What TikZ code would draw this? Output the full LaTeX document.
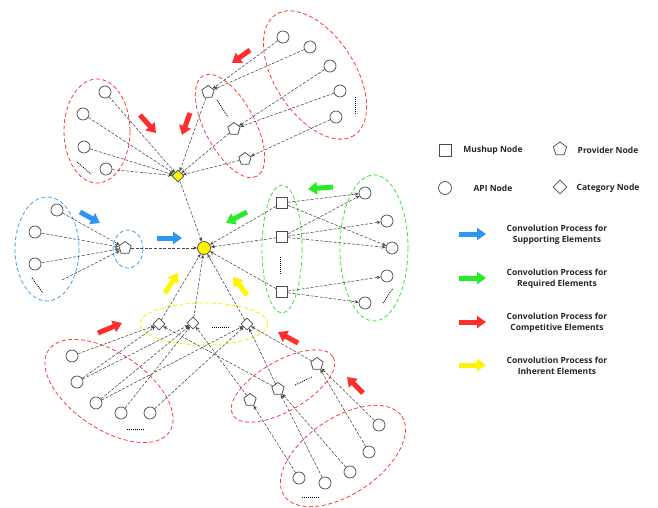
\documentclass[tikz,border=0pt]{standalone}
\usepackage{fontspec}
\setmainfont{Open Sans}
\usetikzlibrary{arrows.meta,shapes.geometric}

\definecolor{ered}{RGB}{250,60,60}
\definecolor{eblue}{RGB}{70,160,235}
\definecolor{egreen}{RGB}{50,230,50}
\definecolor{eyellow}{RGB}{250,238,0}
\definecolor{fred}{RGB}{255,45,45}
\definecolor{fblue}{RGB}{45,150,245}
\definecolor{fgreen}{RGB}{40,235,40}
\definecolor{fyellow}{RGB}{255,245,0}

\begin{document}
\begin{tikzpicture}[x=1pt,y=-1pt,>={Stealth[length=4pt,width=3.4pt]}]
    \tikzstyle{api}=[circle, minimum size=12pt, inner sep=0pt, draw=black!70, line width=0.75pt]
    \tikzstyle{mashup}=[rectangle, minimum size=11pt, inner sep=0pt, draw=black!70, line width=0.75pt]
    \tikzstyle{prov}=[regular polygon, regular polygon sides=5, minimum size=13pt, inner sep=0pt, draw=black!70, line width=0.75pt]
    \tikzstyle{cat}=[diamond, minimum size=12pt, inner sep=0pt, draw=black!70, line width=0.75pt]
    \tikzstyle{link}=[->, gray!55!black, line width=0.55pt, dash pattern=on 3pt off 1.6pt]
    \tikzstyle{group}=[line width=0.8pt, dash pattern=on 4pt off 2.5pt]
    \tikzstyle{more}=[line width=0.9pt, dash pattern=on 0.9pt off 1.1pt]
    \tikzstyle{flow}=[line width=5pt, -{Triangle[length=9pt,width=12pt]}]
    \tikzstyle{legend}=[font=\fontsize{8.5}{10.5}\selectfont\bfseries, align=center, text=black!85]

    \useasboundingbox (0,0) rectangle (658,508);

    % groups
    \draw[group, ered] (97,131) ellipse [x radius=33, y radius=52];
    \draw[group, ered, rotate around={-62:(230,126)}] (230,126) ellipse [x radius=57, y radius=25];
    \draw[group, ered, rotate around={-57:(315,75)}] (315,75) ellipse [x radius=72, y radius=40];
    \draw[group, eblue] (47,249) ellipse [x radius=32, y radius=52];
    \draw[group, eblue] (128,249) ellipse [x radius=15, y radius=19];
    \draw[group, egreen] (282,249) ellipse [x radius=20, y radius=64];
    \draw[group, egreen] (374,248) ellipse [x radius=34, y radius=73];
    \draw[group, eyellow] (204,324) ellipse [x radius=64, y radius=21];
    \draw[group, ered, rotate around={-34:(109,391)}] (109,391) ellipse [x radius=73, y radius=38];
    \draw[group, ered, rotate around={30:(283,386)}] (283,386) ellipse [x radius=58, y radius=25];
    \draw[group, ered, rotate around={34:(343,456)}] (343,456) ellipse [x radius=71, y radius=38];

    % target
    \node[api, fill=yellow, minimum size=13pt] (t) at (204,248) {};

    % competitive elements, top
    \node[cat, fill=yellow] (ca) at (178,176) {};
    \node[api] (tl1) at (105,92) {};
    \node[api] (tl2) at (83,114) {};
    \node[api] (tl3) at (84,147) {};
    \node[api] (tl4) at (106,169) {};
    \node[prov] (pa1) at (208,92) {};
    \node[prov] (pa2) at (234,129) {};
    \node[prov] (pa3) at (245,159) {};
    \node[api] (tr1) at (283,37) {};
    \node[api] (tr2) at (310,47) {};
    \node[api] (tr3) at (330,66) {};
    \node[api] (tr4) at (340,91) {};
    \node[api] (tr5) at (336,117) {};

    % supporting elements
    \node[api] (bl1) at (57,210) {};
    \node[api] (bl2) at (35,232) {};
    \node[api] (bl3) at (35,264) {};
    \coordinate (bl4) at (62,280);
    \node[prov] (pb) at (125,248) {};

    % required elements
    \node[mashup] (m1) at (282,203) {};
    \node[mashup] (m2) at (282,237) {};
    \node[mashup] (m3) at (282,292) {};
    \node[api] (g1) at (365,193) {};
    \node[api] (g2) at (387,221) {};
    \node[api] (g3) at (392,248) {};
    \node[api] (g4) at (387,276) {};
    \node[api] (g5) at (365,303) {};

    % inherent elements
    \node[cat] (d1) at (159,324) {};
    \node[cat] (d2) at (193,323) {};
    \node[cat] (d3) at (247,324) {};
    \node[api] (b1) at (72,356) {};
    \node[api] (b2) at (77,382) {};
    \node[api] (b3) at (96,403) {};
    \node[api] (b4) at (121,413) {};
    \node[api] (b5) at (150,413) {};
    \node[prov] (p1) at (250,400) {};
    \node[prov] (p2) at (278,389) {};
    \node[prov] (p3) at (317,364) {};
    \node[api] (r1) at (379,425) {};
    \node[api] (r2) at (369,452) {};
    \node[api] (r3) at (350,472) {};
    \node[api] (r4) at (325,483) {};
    \node[api] (r5) at (299,478) {};

    % more nodes
    \draw[more] (77,162) -- (91,174);
    \draw[more] (217,100) -- (228,117);
    \draw[more] (355,97) -- (355,115);
    \draw[more] (32,278) -- (43,293);
    \draw[more] (280,257) -- (280,275);
    \draw[more] (383,303) -- (393,288);
    \draw[more] (212,327) -- (230,327);
    \draw[more] (127,429) -- (145,429);
    \draw[more] (295,385) -- (312,377);
    \draw[more] (302,497) -- (320,497);

    % links
    \foreach \s in {tl1,tl2,tl3,tl4,pa1,pa2,pa3}
        \draw[link] (\s) -- (ca);
    \draw[link] (tr1) -- (pa1);
    \draw[link] (tr2) -- (pa1);
    \draw[link] (tr3) -- (pa2);
    \draw[link] (tr4) -- (pa2);
    \draw[link] (tr5) -- (pa3);
    \foreach \s in {bl1,bl2,bl3,bl4}
        \draw[link] (\s) -- (pb);
    \draw[link] (m1) -- (g1);
    \draw[link] (m1) -- (g3);
    \draw[link] (m2) -- (g1);
    \draw[link] (m2) -- (g2);
    \draw[link] (m2) -- (g3);
    \draw[link] (m3) -- (g4);
    \draw[link] (m3) -- (g5);
    \draw[link] (b1) -- (d1);
    \draw[link] (b2) -- (d1);
    \draw[link] (b2) -- (d2);
    \draw[link] (b3) -- (d2);
    \draw[link] (b3) -- (d3);
    \draw[link] (b4) -- (d2);
    \draw[link] (b5) -- (d3);
    \draw[link] (p2) -- (d1);
    \draw[link] (p1) -- (d2);
    \draw[link] (p2) -- (d3);
    \draw[link] (p3) -- (d3);
    \draw[link] (r1) -- (p3);
    \draw[link] (r2) -- (p3);
    \draw[link] (r3) -- (p2);
    \draw[link] (r4) -- (p2);
    \draw[link] (r5) -- (p1);
    \foreach \s in {ca,pb,m1,m2,m3,d1,d2,d3}
        \draw[link] (\s) -- (t);

    % convolution arrows
    \draw[flow, fred] (140,115) -- (156,133);
    \draw[flow, fred] (190,113) -- (182,135);
    \draw[flow, fred] (250,50) -- (232,63);
    \draw[flow, fred] (98,333) -- (122,323);
    \draw[flow, fred] (298,343) -- (278,332);
    \draw[flow, fred] (363,393) -- (347,377);
    \draw[flow, fblue] (80,212) -- (100,223);
    \draw[flow, fblue] (157,238) -- (182,238);
    \draw[flow, fgreen] (333,187) -- (308,189);
    \draw[flow, fgreen] (247,212) -- (226,223);
    \draw[flow, fyellow] (165,293) -- (178,273);
    \draw[flow, fyellow] (247,295) -- (233,277);

    % legend
    \node[mashup, minimum size=12pt] (lm) at (445,150) {};
    \node[legend] (lmt) at (493,150) {Mushup Node};
    \node[prov, minimum size=14pt] (lp) at (560,149) {};
    \node[legend] (lpt) at (608,150) {Provider Node};
    \node[api, minimum size=13pt] (la) at (445,188) {};
    \node[legend] (lat) at (493,188) {API Node};
    \node[cat, minimum size=14pt] (lc) at (560,187) {};
    \node[legend] (lct) at (608,188) {Category Node};

    \draw[flow, fblue] (459,234) -- (486,234);
    \node[legend] (ls) at (557,235) {Convolution Process for\\Supporting Elements};
    \draw[flow, fgreen] (459,278) -- (486,278);
    \node[legend] (lr) at (557,279) {Convolution Process for\\Required Elements};
    \draw[flow, fred] (459,322) -- (486,322);
    \node[legend] (lco) at (557,323) {Convolution Process for\\Competitive Elements};
    \draw[flow, fyellow] (459,365) -- (486,365);
    \node[legend] (li) at (557,366) {Convolution Process for\\Inherent Elements};
\end{tikzpicture}
\end{document}
